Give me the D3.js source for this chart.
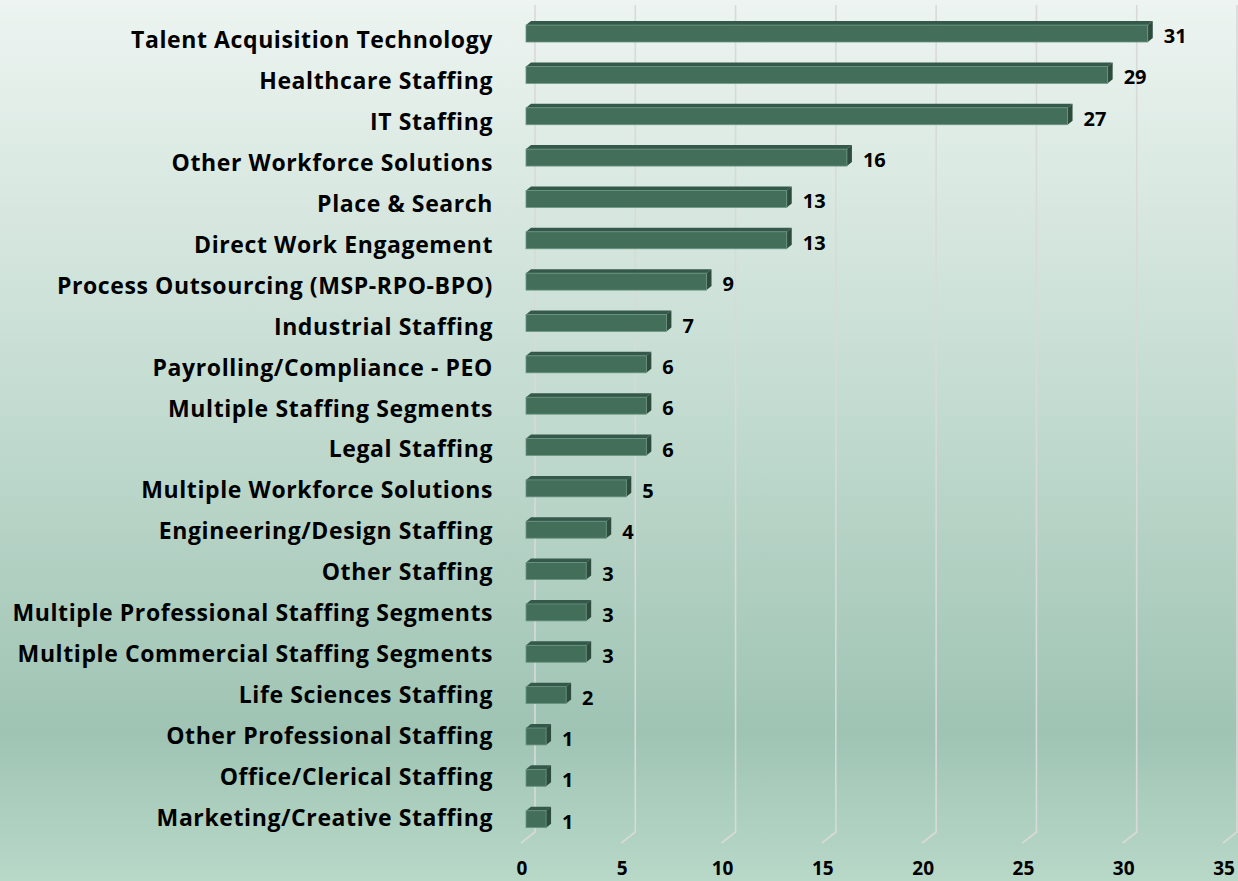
<!DOCTYPE html>
<meta charset="utf-8">
<style>
body { margin: 0; }
svg { display: block; font-family: "Open Sans", sans-serif; font-weight: 700; }
.grid { fill: none; stroke: #d9d9d9; stroke-width: 1.6px; }
.cat { font-size: 23px; letter-spacing: 0.6px; fill: #000; text-anchor: end; }
.val { font-size: 20px; fill: #000; }
.tick { font-size: 19px; fill: #000; text-anchor: middle; }
</style>
<svg width="1238" height="881"></svg>
<script src="https://cdn.jsdelivr.net/npm/d3@7"></script>
<script>

var categories = ["Talent Acquisition Technology", "Healthcare Staffing", "IT Staffing",
  "Other Workforce Solutions", "Place & Search", "Direct Work Engagement",
  "Process Outsourcing (MSP-RPO-BPO)", "Industrial Staffing", "Payrolling/Compliance - PEO",
  "Multiple Staffing Segments", "Legal Staffing", "Multiple Workforce Solutions",
  "Engineering/Design Staffing", "Other Staffing", "Multiple Professional Staffing Segments",
  "Multiple Commercial Staffing Segments", "Life Sciences Staffing",
  "Other Professional Staffing", "Office/Clerical Staffing", "Marketing/Creative Staffing"];

var values = [31, 29, 27, 16, 13, 13, 9, 7, 6, 6, 6, 5, 4, 3, 3, 3, 2, 1, 1, 1];

var tickValues = [0, 5, 10, 15, 20, 25, 30, 35];

var svg = d3.select("svg"),
    width = +svg.attr("width"),
    height = +svg.attr("height");

// background gradient
var grad = svg.append("defs").append("linearGradient")
    .attr("id", "bg")
    .attr("x1", 0).attr("y1", 0).attr("x2", 0).attr("y2", 1);
grad.append("stop").attr("offset", "0%").attr("stop-color", "#edf4f1");
grad.append("stop").attr("offset", "45%").attr("stop-color", "#c4dcd1");
grad.append("stop").attr("offset", "83%").attr("stop-color", "#9fc4b3");
grad.append("stop").attr("offset", "100%").attr("stop-color", "#b8d8c8");

svg.append("rect")
    .attr("width", width)
    .attr("height", height)
    .attr("fill", "url(#bg)");

// back wall scale, front of bars is shifted left
var x = d3.scaleLinear().domain([0, 35]).range([535, 1237]);
var barShift = -9,       // bar front plane vs back wall
    floorDx = -14, floorDy = 11,   // floor edge vs back wall
    dx = 5, dy = -4;     // bar depth

var y = d3.scaleBand().domain(categories).range([5, 832]);
var yLabel = d3.scalePoint().domain(categories).range([48, 826]);

var top0 = 5, bottom0 = 832;

// gridlines on the back wall with the floor edge
svg.append("g").selectAll("path")
  .data(tickValues)
  .enter().append("path")
    .attr("class", "grid")
    .attr("d", function(d) {
      return "M" + x(d) + "," + top0 + "V" + bottom0 +
        "l" + floorDx + "," + floorDy;
    });

// bars
var bar = svg.append("g").selectAll("g")
  .data(values)
  .enter().append("g");

function fx(v) { return x(v) + barShift; }
function ft(i) { return y(categories[i]) + y.step() * 0.485; }
var fh = y.step() * 0.41;

bar.append("path")
    .attr("fill", "#34584a")
    .attr("d", function(d, i) {
      var x0 = fx(0), x1 = fx(d), t = ft(i);
      return "M" + x0 + "," + t + "L" + (x0 + dx) + "," + (t + dy) +
        "L" + (x1 + dx) + "," + (t + dy) + "L" + x1 + "," + t + "Z";
    });

bar.append("path")
    .attr("fill", "#2e4c3e")
    .attr("d", function(d, i) {
      var x1 = fx(d), t = ft(i);
      return "M" + x1 + "," + t + "L" + (x1 + dx) + "," + (t + dy) +
        "L" + (x1 + dx) + "," + (t + dy + fh) + "L" + x1 + "," + (t + fh) + "Z";
    });

bar.append("rect")
    .attr("fill", "#436f5a")
    .attr("stroke", "#6a9582")
    .attr("stroke-width", 0.8)
    .attr("x", fx(0))
    .attr("y", function(d, i) { return ft(i); })
    .attr("width", function(d) { return fx(d) - fx(0); })
    .attr("height", fh);

bar.append("text")
    .attr("class", "val")
    .attr("x", function(d) { return fx(d) + 16; })
    .attr("y", function(d, i) { return ft(i) + 18; })
    .text(function(d) { return d; });

// category labels
svg.append("g").selectAll("text")
  .data(categories)
  .enter().append("text")
    .attr("class", "cat")
    .attr("x", 493)
    .attr("y", function(d) { return yLabel(d); })
    .text(function(d) { return d; });

// x tick labels
svg.append("g").selectAll("text")
  .data(tickValues)
  .enter().append("text")
    .attr("class", "tick")
    .attr("x", function(d) { return x(d) - 13; })
    .attr("y", 875)
    .text(function(d) { return d; });

</script>
